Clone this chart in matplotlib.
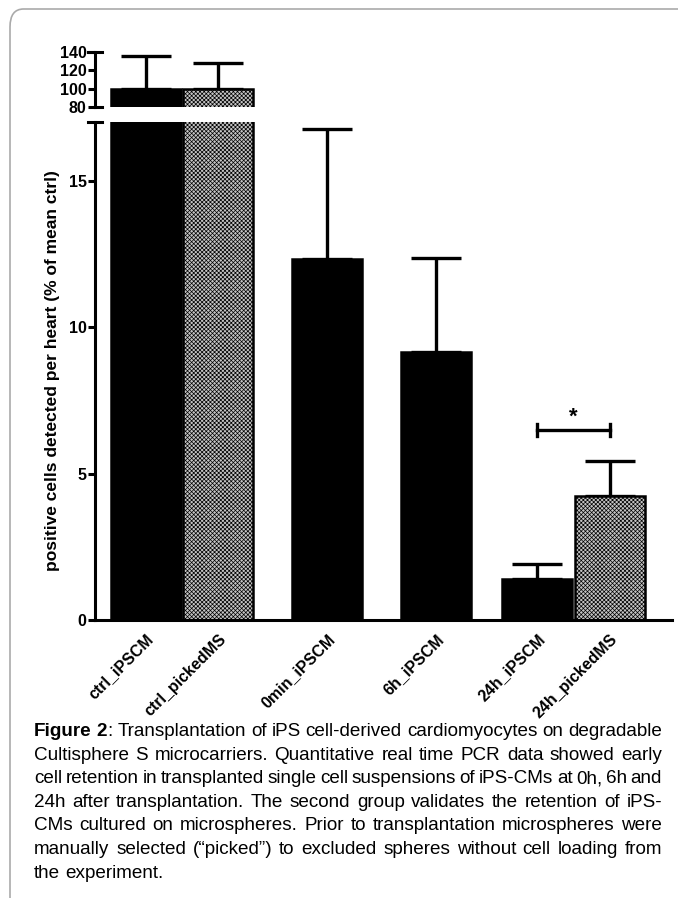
import matplotlib
matplotlib.use("Agg")
import matplotlib.pyplot as plt
from matplotlib.patches import FancyBboxPatch

# datos del grafico
grupos = ["ctrl_iPSCM", "ctrl_pickedMS", "0min_iPSCM", "6h_iPSCM", "24h_iPSCM", "24h_pickedMS"]
valores = [100, 100, 12.32, 9.15, 1.40, 4.23]
errores = [35.6, 27.5, 4.44, 3.20, 0.51, 1.20]
posiciones = [0, 1, 2.5, 4, 5.4, 6.4]
con_trama = [False, True, False, False, False, True]

ticks_bajo = [0, 5, 10, 15]
ticks_alto = [80, 100, 120, 140]
significancia = (4, 5, 6.48)  # barra 5 vs barra 6, altura del corchete

etiqueta_y = "positive cells detected per heart (% of mean ctrl)"
lineas_pie = [
    ["Figure", "2:", "Transplantation", "of", "iPS", "cell-derived", "cardiomyocytes", "on", "degradable"],
    "Cultisphere S microcarriers. Quantitative real time PCR data showed early".split(),
    "cell retention in transplanted single cell suspensions of iPS-CMs at 0h, 6h and".split(),
    "24h after transplantation. The second group validates the retention of iPS-".split(),
    "CMs cultured on microspheres. Prior to transplantation microspheres were".split(),
    "manually selected (\u201cpicked\u201d) to excluded spheres without cell loading from".split(),
    "the experiment.".split(),
]

plt.rcParams["font.family"] = ["Liberation Sans", "DejaVu Sans"]
plt.rcParams["hatch.linewidth"] = 0.5

fig = plt.figure(figsize=(6.78, 8.98), dpi=100)
W, H = 678, 898

def caja(izq, der, arriba, abajo):
    return [izq / W, 1 - abajo / H, (der - izq) / W, (abajo - arriba) / H]

ax_alto = fig.add_axes(caja(95, 672, 52, 107))
ax_bajo = fig.add_axes(caja(95, 672, 122, 620))

for ax in (ax_alto, ax_bajo):
    for i in range(len(grupos)):
        if con_trama[i]:
            ax.bar(posiciones[i], valores[i], width=0.97, color="#c4c4c4", edgecolor="black",
                   hatch="xxxxxxxx", linewidth=1.8, zorder=2)
        else:
            ax.bar(posiciones[i], valores[i], width=0.97, color="black", edgecolor="black",
                   linewidth=1.8, zorder=2)
    ax.errorbar(posiciones, valores, yerr=[[0] * len(valores), errores], fmt="none",
                ecolor="black", elinewidth=2.4, capsize=18, capthick=2.4, zorder=1)
    ax.set_xlim(-0.70, 7.26)
    for s in ("top", "right"):
        ax.spines[s].set_visible(False)
    ax.spines["left"].set_linewidth(2.2)
    ax.tick_params(axis="y", direction="out", length=5, width=2.2, labelsize=11.5, pad=1)

ax_alto.set_ylim(80, 140)
ax_alto.set_yticks(ticks_alto)
ax_alto.set_yticklabels([str(v) for v in ticks_alto], fontweight="bold")
ax_alto.spines["bottom"].set_visible(False)
ax_alto.set_xticks([])
ax_alto.plot([-0.012, 0.012], [1, 1], transform=ax_alto.transAxes, color="black", lw=2.2, clip_on=False)
ax_alto.plot([0, 0.012], [0, 0], transform=ax_alto.transAxes, color="black", lw=2.2, clip_on=False)

ax_bajo.set_ylim(0, 17)
ax_bajo.set_yticks(ticks_bajo)
ax_bajo.set_yticklabels([str(v) for v in ticks_bajo], fontweight="bold")
ax_bajo.spines["bottom"].set_linewidth(2.2)
ax_bajo.plot([-0.012, 0.012], [1, 1], transform=ax_bajo.transAxes, color="black", lw=2.2, clip_on=False)
ax_bajo.set_xticks(posiciones)
ax_bajo.set_xticklabels(grupos, rotation=45, ha="right", rotation_mode="anchor",
                        fontsize=11.5, fontweight="bold")
ax_bajo.tick_params(axis="x", length=0, pad=8)
ax_bajo.set_ylabel(etiqueta_y, fontsize=12.5, fontweight="bold", labelpad=6)

# corchete de significancia
a, b, y = significancia
xa, xb = posiciones[a], posiciones[b]
ax_bajo.plot([xa, xb], [y, y], color="black", lw=2.4)
ax_bajo.plot([xa, xa], [y - 0.2, y + 0.2], color="black", lw=2.4)
ax_bajo.plot([xb, xb], [y - 0.2, y + 0.2], color="black", lw=2.4)
ax_bajo.text((xa + xb) / 2, y + 0.1, "*", ha="center", va="bottom", fontsize=16, fontweight="bold")

# marco gris del recuadro
marco = FancyBboxPatch((10 / W, -0.1), 1.2, 1.1 - 9 / H, boxstyle="round,pad=0,rounding_size=0.02",
                       transform=fig.transFigure, facecolor="none", edgecolor="#aaaaaa", lw=1.2)
fig.patches.append(marco)

# pie de figura justificado
fig.canvas.draw()
rend = fig.canvas.get_renderer()
x0, x1 = 34, 662
fam_pie = ["Liberation Sans", "DejaVu Sans"]
tam_pie = 13.6
y_linea = 736
salto = 23.6

def ancho(txt, negrita=False):
    t = fig.text(0, 0, txt, fontsize=tam_pie, family=fam_pie, fontweight="bold" if negrita else "normal")
    w = t.get_window_extent(rend).width
    t.remove()
    return w

for n, palabras in enumerate(lineas_pie):
    piezas = []
    for k, p in enumerate(palabras):
        if n == 0 and k == 0:
            piezas.append([("Figure", True)])
        elif n == 0 and k == 1:
            piezas.append([("2", True), (":", False)])
        else:
            piezas.append([(p, False)])
    anchos = [sum(ancho(s, bd) for s, bd in pz) for pz in piezas]
    if n < len(lineas_pie) - 1:
        hueco = (x1 - x0 - sum(anchos)) / (len(piezas) - 1)
    else:
        hueco = ancho("a b") - ancho("ab")
    x = x0
    for pz, w in zip(piezas, anchos):
        xx = x
        for s, bd in pz:
            fig.text(xx / W, 1 - y_linea / H, s, fontsize=tam_pie, family=fam_pie,
                     fontweight="bold" if bd else "normal", va="baseline", ha="left")
            xx += ancho(s, bd)
        x += w + hueco
    y_linea += salto

fig.savefig("out.png", dpi=100)
